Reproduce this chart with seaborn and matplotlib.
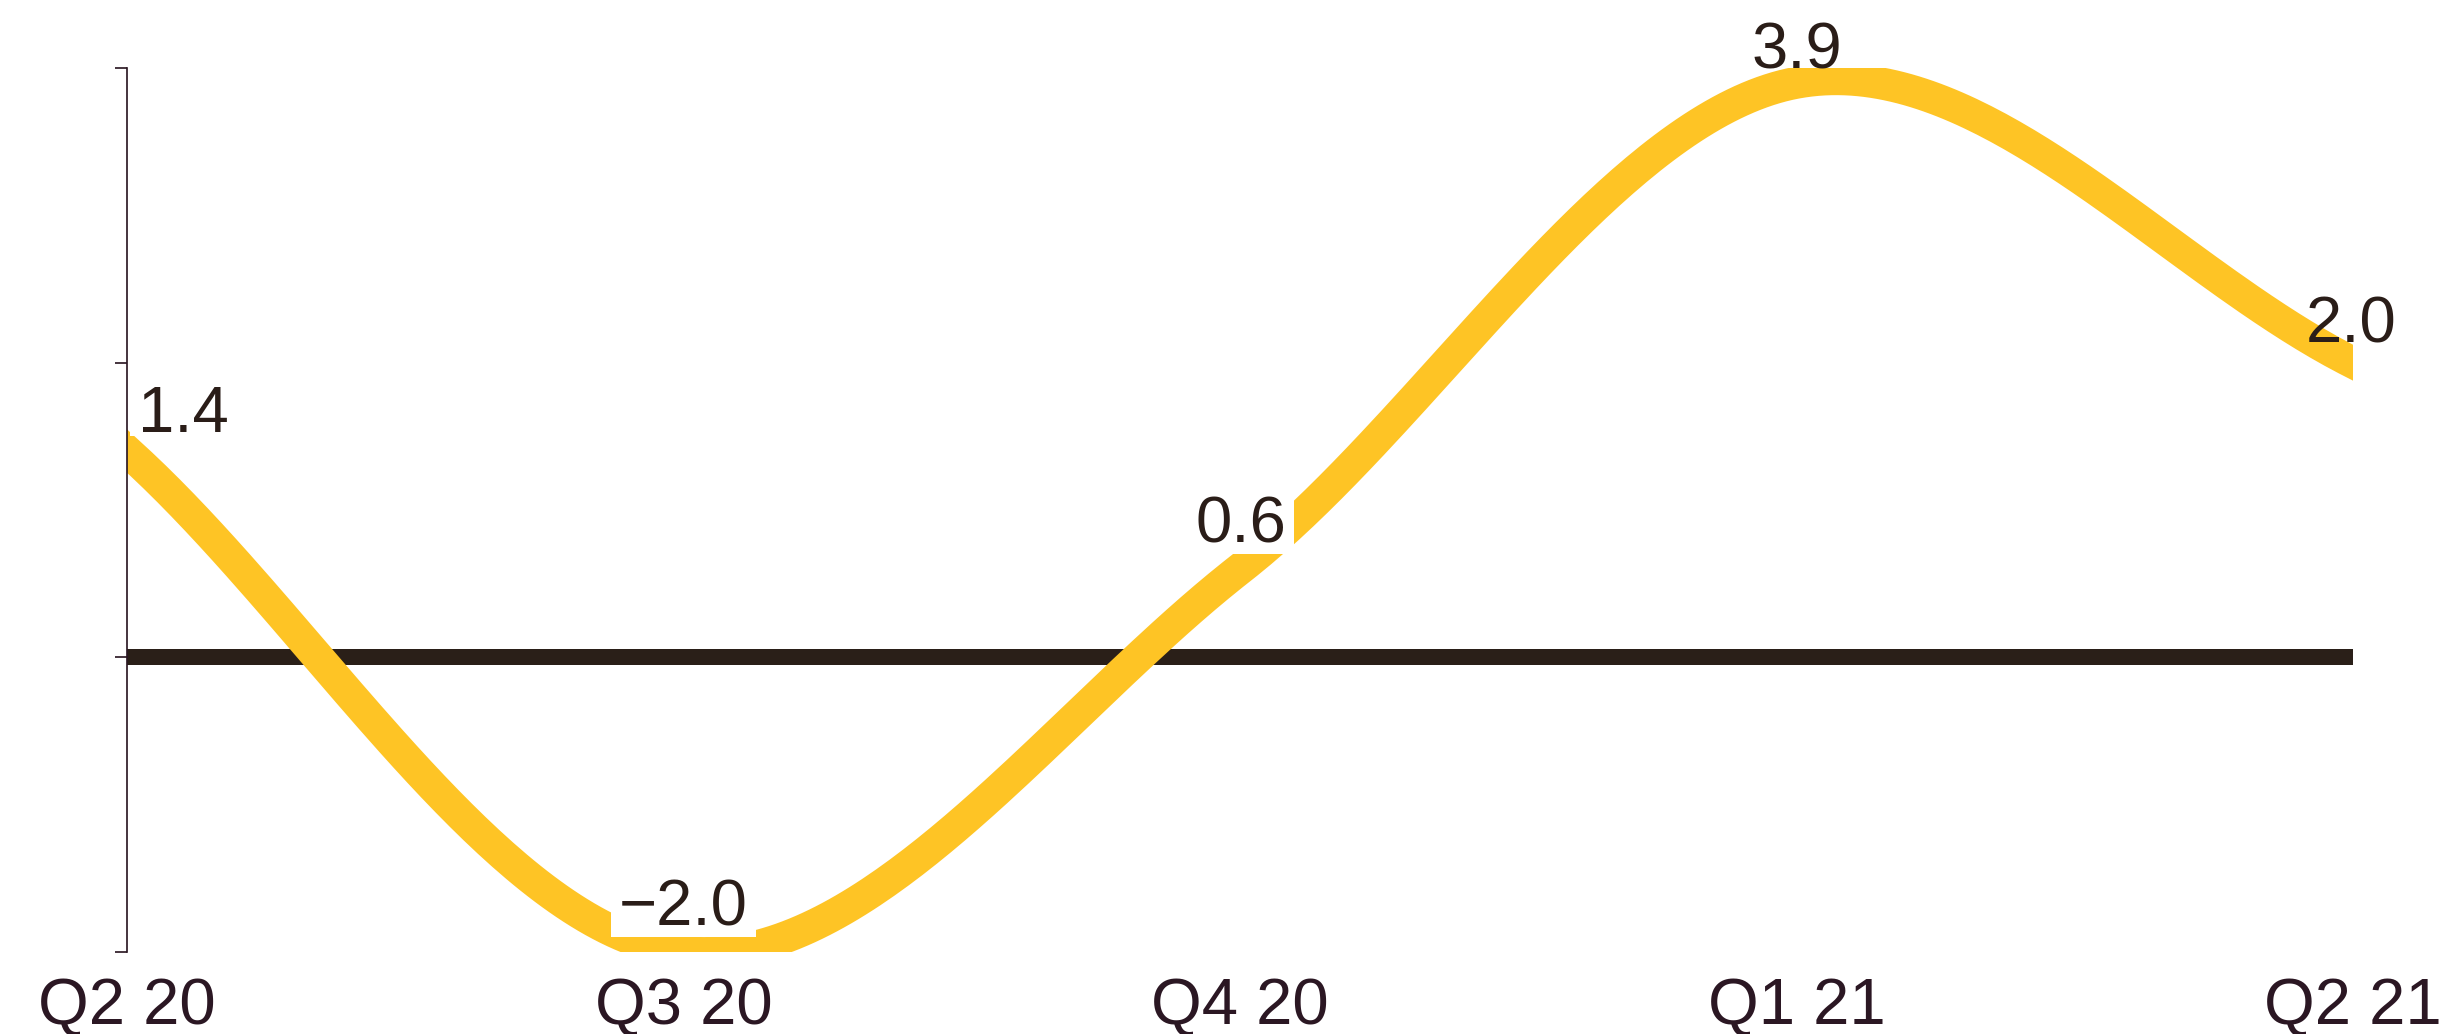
import numpy as np
import matplotlib
matplotlib.use("Agg")
import matplotlib.pyplot as plt
from matplotlib.patches import Rectangle
from matplotlib.transforms import IdentityTransform
import seaborn as sns

# Quarterly growth series
quarters = ["Q2 20", "Q3 20", "Q4 20", "Q1 21", "Q2 21"]
growth = [1.4, -2.0, 0.6, 3.9, 2.0]
y_ticks = [-2, 0, 2, 4]

LINE_YELLOW = "#FEC425"
ZERO_BROWN = "#2A1F18"
AXIS_INK = "#2B1723"
LABEL_INK = "#2A1D18"

PX = 0.72  # points per pixel at dpi 100


def catmull_rom(xs, ys, samples=80):
    """Smooth path through the points (uniform Catmull-Rom, reflected end points)."""
    xs = np.asarray(xs, float)
    ys = np.asarray(ys, float)
    px = np.concatenate([[2 * xs[0] - xs[1]], xs, [2 * xs[-1] - xs[-2]]])
    py = np.concatenate([[2 * ys[0] - ys[1]], ys, [2 * ys[-1] - ys[-2]]])
    t = np.linspace(0, 1, samples, endpoint=False)
    h00 = 2 * t**3 - 3 * t**2 + 1
    h10 = t**3 - 2 * t**2 + t
    h01 = -2 * t**3 + 3 * t**2
    h11 = t**3 - t**2
    out_x, out_y = [], []
    for i in range(len(xs) - 1):
        p0x, p1x = px[i + 1], px[i + 2]
        p0y, p1y = py[i + 1], py[i + 2]
        m0x, m1x = (px[i + 2] - px[i]) / 2, (px[i + 3] - px[i + 1]) / 2
        m0y, m1y = (py[i + 2] - py[i]) / 2, (py[i + 3] - py[i + 1]) / 2
        out_x.append(h00 * p0x + h10 * m0x + h01 * p1x + h11 * m1x)
        out_y.append(h00 * p0y + h10 * m0y + h01 * p1y + h11 * m1y)
    out_x.append([xs[-1]])
    out_y.append([ys[-1]])
    return np.concatenate(out_x), np.concatenate(out_y)


sns.set_theme(style="white")
plt.rcParams["font.family"] = ["Liberation Sans", "DejaVu Sans"]

W, H = 2449, 1034
fig = plt.figure(figsize=(W / 100, H / 100), dpi=100)
ax = fig.add_axes([127 / W, (H - 952) / H, (2353 - 127) / W, (952 - 68) / H])

xpos = np.arange(len(quarters))
cx, cy = catmull_rom(xpos, growth)

ax.axhline(0, color=ZERO_BROWN, lw=16 * PX, zorder=1, solid_capstyle="butt")
sns.lineplot(x=cx, y=cy, ax=ax, color=LINE_YELLOW, linewidth=32 * PX,
             sort=False, estimator=None, zorder=2)
# square ends run past the frame and are cut flat by the axes clip
ax.lines[-1].set_solid_capstyle("projecting")

ax.set_xlim(0, len(quarters) - 1)
ax.set_ylim(y_ticks[0], y_ticks[-1])

ax.set_xticks(xpos, quarters)
ax.set_yticks(y_ticks, [""] * len(y_ticks))
ax.tick_params(axis="x", length=0, pad=18, labelsize=47, labelcolor=AXIS_INK)
ax.tick_params(axis="y", left=True, length=12 * PX, width=1.7 * PX,
               color=AXIS_INK)
for side in ["top", "right", "bottom"]:
    ax.spines[side].set_visible(False)
ax.spines["left"].set_color(AXIS_INK)
ax.spines["left"].set_linewidth(1.7 * PX)
ax.grid(False)

# value labels above each point: (dx px, dy px, alignment, white backing gap px)
label_style = [(11, 19, "left", 4), (0, 27, "center", 12),
               (1, 26.6, "center", 12), (0, 14.5, "center", None),
               (-2, 20, "center", None)]
texts = []
for i, (q, v) in enumerate(zip(xpos, growth)):
    dx, dy, ha, _ = label_style[i]
    txt = ax.annotate(f"{v:.1f}".replace("-", "\u2212"), xy=(q, v),
                      xytext=(dx * PX, dy * PX), textcoords="offset points",
                      ha=ha, va="baseline", fontsize=47, color=LABEL_INK,
                      zorder=5, annotation_clip=False)
    texts.append(txt)

fig.canvas.draw()
renderer = fig.canvas.get_renderer()
for i, (q, v) in enumerate(zip(xpos, growth)):
    gap = label_style[i][3]
    if gap is None:
        continue
    bb = texts[i].get_window_extent(renderer)
    baseline = ax.transData.transform((q, v))[1] + label_style[i][1]
    bottom = baseline - gap
    rect = Rectangle((bb.x0 - 8, bottom), bb.width + 16, bb.y1 + 8 - bottom,
                     transform=IdentityTransform(), facecolor="white",
                     edgecolor="none", zorder=4, clip_on=False)
    ax.add_artist(rect)

fig.savefig("out.png", dpi=100, facecolor="white")
